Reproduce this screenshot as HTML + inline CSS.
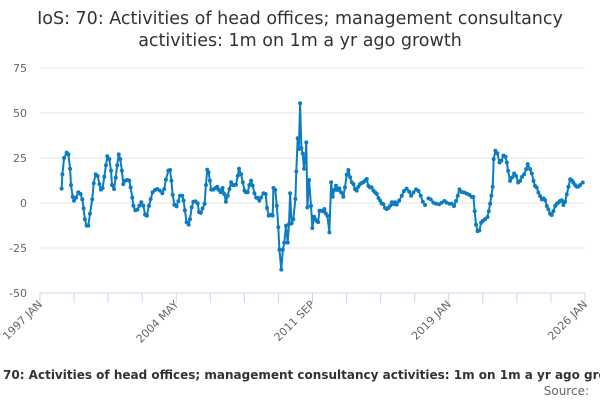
<!DOCTYPE html>
<html><head><meta charset="utf-8"><style>
html,body{margin:0;padding:0;background:#fff;width:600px;height:400px;overflow:hidden}
svg{display:block;font-family:"DejaVu Sans","Liberation Sans",sans-serif}
</style></head><body>
<svg id="chart" width="600" height="400">
<text x="300" y="24" text-anchor="middle" font-size="17.5" fill="#333">IoS: 70: Activities of head offices; management consultancy</text>
<text x="300" y="46" text-anchor="middle" font-size="17.5" fill="#333">activities: 1m on 1m a yr ago growth</text>
<g id="grid"></g><g id="xaxis"></g><g id="series"></g>
<text x="3" y="379" font-size="12" font-weight="bold" fill="#333">70: Activities of head offices; management consultancy activities: 1m on 1m a yr ago growth</text>
<text x="589" y="395" text-anchor="end" font-size="12" fill="#666">Source:</text>
</svg>
<script>
const yTicks=[75,50,25,0,-25,-50];
const xTickLabels=["1997 JAN","2004 MAY","2011 SEP","2019 JAN","2026 JAN"];
const years=[1998.15,1998.19,1998.28,1998.42,1998.51,1998.60,1998.65,1998.74,1998.81,1998.92,1999.04,1999.16,1999.25,1999.32,1999.39,1999.48,1999.57,1999.66,1999.78,1999.86,1999.96,2000.07,2000.16,2000.24,2000.33,2000.42,2000.51,2000.58,2000.69,2000.78,2000.83,2000.94,2001.03,2001.11,2001.19,2001.27,2001.36,2001.43,2001.54,2001.66,2001.75,2001.82,2001.91,2001.97,2002.07,2002.18,2002.28,2002.39,2002.50,2002.59,2002.69,2002.80,2002.89,2002.99,2003.12,2003.24,2003.38,2003.51,2003.61,2003.70,2003.83,2003.92,2003.99,2004.06,2004.15,2004.27,2004.36,2004.45,2004.57,2004.64,2004.71,2004.80,2004.91,2004.98,2005.07,2005.16,2005.28,2005.39,2005.46,2005.56,2005.65,2005.76,2005.83,2005.90,2005.97,2006.04,2006.11,2006.22,2006.33,2006.43,2006.50,2006.61,2006.71,2006.80,2006.89,2006.99,2007.08,2007.17,2007.25,2007.34,2007.43,2007.52,2007.59,2007.70,2007.79,2007.88,2007.96,2008.05,2008.14,2008.23,2008.32,2008.41,2008.50,2008.58,2008.67,2008.76,2008.89,2009.01,2009.08,2009.17,2009.28,2009.38,2009.42,2009.52,2009.60,2009.68,2009.74,2009.84,2009.92,2010.00,2010.09,2010.18,2010.25,2010.31,2010.39,2010.48,2010.59,2010.64,2010.71,2010.77,2010.84,2010.91,2010.98,2011.05,2011.12,2011.17,2011.23,2011.32,2011.42,2011.49,2011.58,2011.65,2011.72,2011.80,2011.87,2011.96,2012.04,2012.13,2012.20,2012.29,2012.40,2012.49,2012.58,2012.66,2012.75,2012.84,2012.93,2013.02,2013.14,2013.23,2013.32,2013.41,2013.50,2013.59,2013.68,2013.76,2013.85,2013.94,2014.03,2014.12,2014.21,2014.30,2014.39,2014.47,2014.56,2014.65,2014.74,2014.83,2014.92,2015.01,2015.10,2015.18,2015.27,2015.36,2015.45,2015.54,2015.63,2015.72,2015.81,2015.89,2015.98,2016.11,2016.25,2016.37,2016.51,2016.64,2016.75,2016.87,2017.01,2017.14,2017.26,2017.37,2017.49,2017.58,2017.67,2017.79,2017.93,2018.08,2018.24,2018.38,2018.52,2018.64,2018.79,2018.91,2019.03,2019.14,2019.23,2019.32,2019.44,2019.57,2019.71,2019.85,2019.97,2020.06,2020.13,2020.20,2020.28,2020.38,2020.47,2020.56,2020.68,2020.81,2020.88,2020.95,2021.02,2021.09,2021.14,2021.23,2021.34,2021.45,2021.55,2021.66,2021.77,2021.84,2021.91,2022.01,2022.12,2022.23,2022.33,2022.44,2022.55,2022.65,2022.76,2022.87,2022.95,2023.08,2023.17,2023.26,2023.34,2023.43,2023.52,2023.61,2023.70,2023.79,2023.88,2023.97,2024.05,2024.14,2024.23,2024.32,2024.41,2024.50,2024.59,2024.67,2024.76,2024.85,2024.94,2025.03,2025.12,2025.21,2025.30,2025.38,2025.47,2025.56,2025.65,2025.74,2025.88];
const growth=[8,16,25,28,27,19,10,3.5,1.3,3,6,5,2,-3,-9,-12.6,-12.6,-6,2,11,16,15,10.5,7.4,8.3,14.6,21,26,24.4,18,10,7.8,14,21,27,24.4,18,10.5,12.4,12.8,12.4,8.7,3,-1.5,-4,-3.7,-1.5,0.4,-1.5,-6.5,-7,-1.5,2.2,6,7.2,7.8,6.9,5.4,7.8,13,18,18.3,12.4,4.6,-1,-1.9,1,4,4,1.3,-4,-10.7,-12,-9,-2.4,0.7,0.9,-0.2,-5,-5.5,-3,-0.4,10,18.5,17,12.4,7.4,7.4,8.3,9,7.4,6,8.3,5,0.7,4,7.8,11.5,10,10,10.2,15,19,16,11.5,6.9,6,6,10,12.4,9.6,5.4,3,2.8,1.3,3,5.4,5,-2.8,-7,-6.5,-7,8.3,7.2,-1.5,-13.5,-26,-37,-26,-22,-12.6,-22,-11.7,5.4,-11.3,-9,2.2,17.6,36,30,55.4,30.5,27.4,19,25.4,33.7,-2.4,12.8,-1.5,-13.9,-7.6,-9,-10,-10.6,-4.3,-4.3,-4.6,-3.3,-5.7,-7,-16.3,11.5,3.5,7.2,9.6,7.2,8.1,5.9,3.5,8.7,15.7,18.3,14.3,11.5,10.5,7.8,6.9,9,10.5,11.1,11.5,12.4,13.3,9.6,8.7,8.7,6.9,5.9,5,2.8,1.3,-0.2,-0.6,-2.8,-3.3,-2.8,-1.5,0.4,-0.6,0.4,-0.9,1.3,4,6.7,8,6.3,4,5.8,7.6,6.7,4,0.7,-1.1,null,2.6,2,0.2,-0.4,-0.7,0.2,1.1,0.2,-0.4,-0.4,-1.7,1.1,4,7.6,6.1,5.8,5.2,4.5,3.4,3.4,-4.5,-12,-15.6,-15.3,-11,-10,-9,-7.8,-4.5,-0.4,4,9,24.4,29,27.6,22.5,23.5,26.3,25.7,22.5,17.9,12.3,14.2,16.4,15.1,11.4,12.3,14.5,16,18.8,21.6,18.8,16.4,12.3,9.5,8.6,5.8,3.9,2,2.6,1.5,-1.7,-3.5,-6,-6.7,-4.5,-1.7,-0.4,0.2,1.1,1.5,-1.1,0.7,4.8,9,13.2,12.6,11.4,10,9,9.2,10,11.4];
const X0=40,X1=585,Y0=68,Y1=293,YEAR0=1997,YEAR1=2026,VMAX=75,VMIN=-50;
const NS="http://www.w3.org/2000/svg";
function xs(yr){return X0+(yr-YEAR0)/(YEAR1-YEAR0)*(X1-X0);}
function ys(v){return Y0+(VMAX-v)/(VMAX-VMIN)*(Y1-Y0);}
function mk(tag,attrs,parent){const e=document.createElementNS(NS,tag);for(const k in attrs)e.setAttribute(k,attrs[k]);parent.appendChild(e);return e;}
const grid=document.getElementById('grid');
yTicks.forEach(v=>{
  const y=ys(v);
  const l=mk('line',{x1:X0,x2:X1,y1:y,y2:y,stroke:v===VMIN?'#ccd6eb':'#e6e6e6','stroke-width':1},grid);
  
  
  const t=mk('text',{x:27,y:y+4,'text-anchor':'end','font-size':11,fill:'#666'},grid);
  t.textContent=v;
  
  
});
const xa=document.getElementById('xaxis');
for(let i=0;i<=16;i++){
  const x=X0+i*(X1-X0)/16;
  const tk=mk('line',{x1:x,x2:x,y1:Y1,y2:Y1+10,stroke:'#ccd6eb','stroke-width':1},xa);
  
  
  if(i%4===0){
    const t=mk('text',{x:x+3,y:Y1+12,'text-anchor':'end','font-size':11,fill:'#666',transform:`rotate(-45 ${x+3} ${Y1+12})`},xa);
    t.textContent=xTickLabels[i/4];
    
    
  }
}
const sg=document.getElementById('series');
let d='',pen=false;
years.forEach((yr,i)=>{const v=growth[i];if(v===null){pen=false;return;}d+=(pen?'L':'M')+xs(yr).toFixed(1)+' '+ys(v).toFixed(1);pen=true;});
const p=mk('path',{d:d,fill:'none',stroke:'#0d7cc1','stroke-width':2,'stroke-linejoin':'round'},sg);


years.forEach((yr,i)=>{const v=growth[i];if(v===null)return;
  const c=mk('circle',{cx:xs(yr),cy:ys(v),r:2,fill:'#0d7cc1'},sg);
  
  
});
</script>
</body></html>
